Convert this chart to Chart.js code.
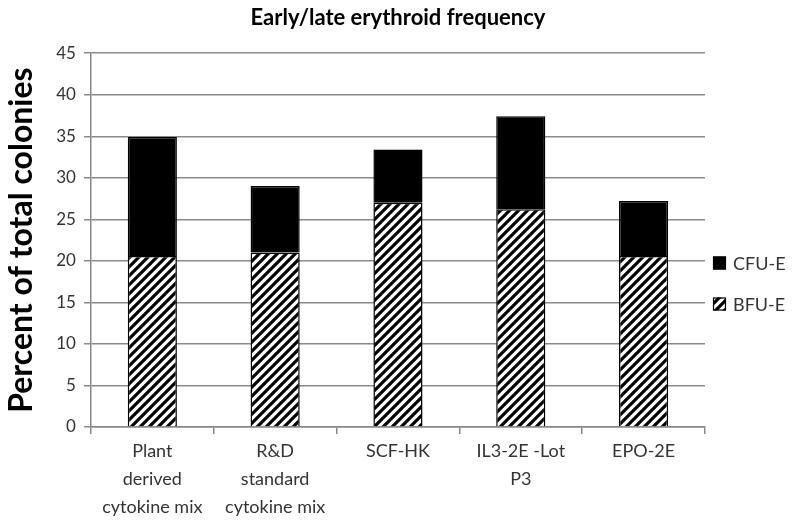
<!DOCTYPE html>
<html>
<head>
<meta charset="utf-8">
<script src="https://cdn.jsdelivr.net/npm/chart.js@4.4.1/dist/chart.umd.min.js"></script>
<style>
    html, body { margin: 0; padding: 0; background: #fff; }
    #wrap { width: 792px; height: 524px; }
</style>
</head>
<body>
<div id="wrap"><canvas id="erythroidChart" width="792" height="524"></canvas></div>
<script>
const categories = [
    ['Plant', 'derived', 'cytokine mix'],
    ['R&D', 'standard', 'cytokine mix'],
    'SCF-HK',
    ['IL3-2E -Lot', 'P3'],
    'EPO-2E'
];
const seriesNames = ['BFU-E', 'CFU-E'];
const bfuValues = [20.6, 21.0, 27.0, 26.2, 20.6];
const cfuValues = [14.3, 8.0, 6.4, 11.2, 6.6];
const yMax = 45;
const yStep = 5;

const FONT = 'Lato, "Liberation Sans", sans-serif';
const TEXT_COLOR = '#333333';

// diagonal hatch for BFU-E
function makeHatch() {
    const s = 9;
    const c = document.createElement('canvas');
    c.width = s;
    c.height = s;
    const g = c.getContext('2d');
    g.fillStyle = '#ffffff';
    g.fillRect(0, 0, s, s);
    g.strokeStyle = '#000000';
    g.lineWidth = 3.2;
    g.beginPath();
    g.moveTo(-1, s + 1); g.lineTo(s + 1, -1);
    g.moveTo(-s / 2 - 1, s / 2 + 1); g.lineTo(s / 2 + 1, -s / 2 - 1);
    g.moveTo(s / 2 - 1, s * 1.5 + 1); g.lineTo(s * 1.5 + 1, s / 2 - 1);
    g.stroke();
    return g.createPattern(c, 'repeat');
}

const ctx = document.getElementById('erythroidChart').getContext('2d');
const hatch = makeHatch();

// legend drawn at the right, CFU-E above BFU-E
const sideLegend = {
    id: 'sideLegend',
    afterDraw(chart) {
        const c = chart.ctx;
        const items = chart.data.datasets.slice().reverse();
        const x = 713;
        let y = 263;
        c.save();
        c.font = '18px ' + FONT;
        c.textBaseline = 'middle';
        items.forEach(ds => {
            c.fillStyle = ds.backgroundColor;
            c.fillRect(x, y - 6.5, 13, 13);
            c.strokeStyle = '#000';
            c.lineWidth = 1.2;
            c.strokeRect(x + 0.5, y - 6, 12, 12);
            c.fillStyle = TEXT_COLOR;
            c.fillText(ds.label, x + 20, y + 1);
            y += 41;
        });
        c.restore();
    }
};

new Chart(ctx, {
    type: 'bar',
    data: {
        labels: categories,
        datasets: [
            {
                label: seriesNames[0],
                data: bfuValues,
                backgroundColor: hatch,
                borderColor: '#000000',
                borderWidth: 1.5,
                barPercentage: 0.4,
                categoryPercentage: 1.0
            },
            {
                label: seriesNames[1],
                data: cfuValues,
                backgroundColor: '#000000',
                borderColor: '#000000',
                borderWidth: 1.5,
                barPercentage: 0.4,
                categoryPercentage: 1.0
            }
        ]
    },
    options: {
        responsive: false,
        animation: false,
        layout: {
            padding: { top: 0, right: 0, bottom: 0, left: 4 }
        },
        scales: {
            x: {
                stacked: true,
                border: { color: '#888888', width: 1.5 },
                grid: {
                    offset: true,
                    drawOnChartArea: false,
                    drawTicks: true,
                    tickLength: 7,
                    color: '#888888',
                    lineWidth: 1.5
                },
                ticks: {
                    color: TEXT_COLOR,
                    font: { family: FONT, size: 18, lineHeight: '28px' },
                    padding: 3,
                    maxRotation: 0,
                    autoSkip: false
                }
            },
            y: {
                stacked: true,
                min: 0,
                max: yMax,
                border: { color: '#888888', width: 1.5 },
                grid: {
                    color: '#8a8a8a',
                    lineWidth: 1.5,
                    tickLength: 7
                },
                ticks: {
                    stepSize: yStep,
                    color: TEXT_COLOR,
                    font: { family: FONT, size: 17 },
                    padding: 8
                },
                title: {
                    display: true,
                    text: 'Percent of total colonies',
                    color: '#000000',
                    font: { family: FONT, size: 32, weight: 'bold', lineHeight: 1.1 },
                    padding: { top: 0, bottom: 9 }
                }
            },
            // keeps room on the right for the legend
            yRight: {
                position: 'right',
                display: true,
                grid: { display: false, drawTicks: false },
                border: { display: false },
                ticks: { display: false },
                afterFit(scale) { scale.width = 87; }
            }
        },
        plugins: {
            legend: { display: false },
            tooltip: { enabled: false },
            title: {
                display: true,
                text: 'Early/late erythroid frequency',
                color: '#000000',
                font: { family: FONT, size: 22, weight: 'bold', lineHeight: 1.1 },
                padding: { top: 6, bottom: 23 }
            }
        }
    },
    plugins: [sideLegend]
});
</script>
</body>
</html>
